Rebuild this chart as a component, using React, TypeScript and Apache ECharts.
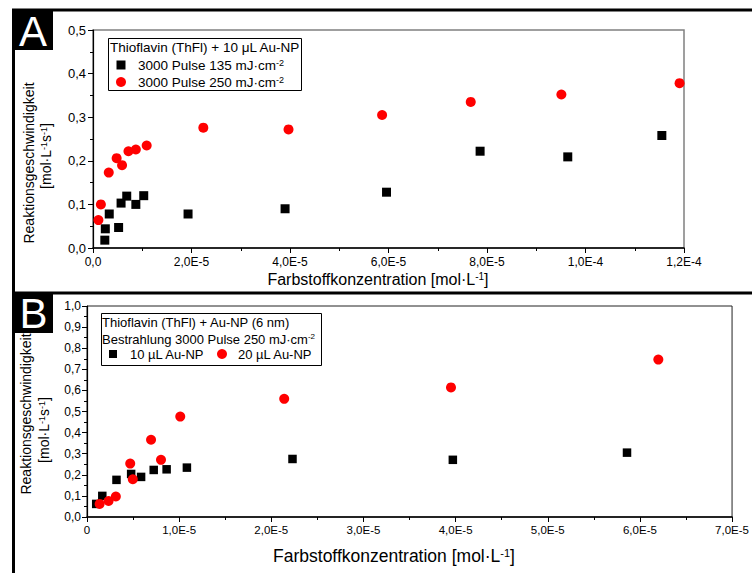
import React, { useEffect, useRef } from "react";
import * as echarts from "echarts";

// Panel A: Thioflavin (ThFl) + 10 µL Au-NP
const aBlack: [number, number][] = [
  [2.4e-6, 0.018], [2.5e-6, 0.044], [3.3e-6, 0.078], [5.2e-6, 0.047], [5.7e-6, 0.103],
  [6.85e-6, 0.119], [8.7e-6, 0.1], [1.03e-5, 0.12], [1.93e-5, 0.078], [3.9e-5, 0.09],
  [5.96e-5, 0.128], [7.86e-5, 0.222], [9.64e-5, 0.209], [1.155e-4, 0.258],
];
const aRed: [number, number][] = [
  [1.1e-6, 0.064], [1.6e-6, 0.1], [3.2e-6, 0.173], [4.8e-6, 0.206], [5.9e-6, 0.19],
  [7.2e-6, 0.222], [8.7e-6, 0.226], [1.09e-5, 0.235], [2.24e-5, 0.276], [3.97e-5, 0.272],
  [5.87e-5, 0.305], [7.67e-5, 0.335], [9.51e-5, 0.352], [1.191e-4, 0.378],
];
// Panel B: Thioflavin (ThFl) + Au-NP (6 nm)
const bBlack: [number, number][] = [
  [1.0e-6, 0.062], [1.66e-6, 0.1], [3.2e-6, 0.176], [4.79e-6, 0.204], [5.87e-6, 0.19],
  [7.24e-6, 0.223], [8.64e-6, 0.226], [1.084e-5, 0.234], [2.23e-5, 0.275], [3.97e-5, 0.271],
  [5.86e-5, 0.305],
];
const bRed: [number, number][] = [
  [1.37e-6, 0.062], [2.34e-6, 0.076], [3.13e-6, 0.097], [4.69e-6, 0.253], [4.97e-6, 0.179],
  [6.95e-6, 0.366], [8.03e-6, 0.271], [1.012e-5, 0.476], [2.14e-5, 0.56], [3.95e-5, 0.614],
  [6.2e-5, 0.746],
];

const seriesNamesA = ["3000 Pulse 135 mJ·cm-2", "3000 Pulse 250 mJ·cm-2"];
const seriesNamesB = ["10 µL Au-NP", "20 µL Au-NP"];

const FONT = "Liberation Sans, Arial, sans-serif";

const fmtExp = (zero: string) => (v: number) =>
  v === 0 ? zero : v.toExponential(1).replace(".", ",").replace("e", "E");
const fmtY = (v: number) => v.toFixed(1).replace(".", ",");

function xAxis(gridIndex: number, max: number, interval: number, zero: string, fs: number, margin: number) {
  return {
    type: "value",
    gridIndex,
    min: 0,
    max,
    interval,
    splitLine: { show: false },
    axisLine: { onZero: false, lineStyle: { color: "#000", width: 1.5 } },
    axisTick: { length: 5, lineStyle: { color: "#000", width: 1 } },
    minorTick: { show: true, splitNumber: 2, length: 3, lineStyle: { color: "#000" } },
    axisLabel: { formatter: fmtExp(zero), fontSize: fs, color: "#000", fontFamily: FONT, margin },
  };
}
function yAxis(gridIndex: number, max: number, fs: number, margin: number) {
  return {
    type: "value",
    gridIndex,
    min: 0,
    max,
    interval: 0.1,
    splitLine: { show: false },
    axisLine: { onZero: false, lineStyle: { color: "#000", width: 1.2 } },
    axisTick: { length: 5, lineStyle: { color: "#000", width: 1 } },
    minorTick: { show: true, splitNumber: 2, length: 3, lineStyle: { color: "#000" } },
    axisLabel: { formatter: fmtY, fontSize: fs, color: "#000", fontFamily: FONT, margin },
  };
}

const sup = (fs: number) => ({ fontSize: fs, lineHeight: 8, verticalAlign: "top", fontFamily: FONT, fill: "#000" });

function txt(x: number, y: number, text: string, fs: number, extra: any = {}) {
  return {
    type: "text",
    x,
    y,
    rotation: extra.rotation || 0,
    style: {
      text,
      fontSize: fs,
      fontFamily: FONT,
      fill: extra.fill || "#000",
      textAlign: extra.align || "left",
      textVerticalAlign: "middle",
      rich: { sup: sup(Math.round(fs * 0.65)) },
    },
    z: extra.z || 10,
  };
}

export default function App() {
  const ref = useRef<HTMLDivElement>(null);
  useEffect(() => {
    if (!ref.current) return;
    const chart = echarts.init(ref.current, null, { renderer: "svg" });
    const toSup = (s: string) => s.replace(/cm-2$/, "cm{sup|-2}");
    const option: any = {
      animation: false,
      backgroundColor: "#fff",
      grid: [
        { left: 93, top: 30, width: 591, height: 218, show: true, borderColor: "#808080", borderWidth: 1.5, backgroundColor: "transparent" },
        { left: 87, top: 306, width: 648, height: 211, show: true, borderColor: "#222", borderWidth: 1, backgroundColor: "transparent" },
      ],
      xAxis: [xAxis(0, 1.2e-4, 2e-5, "0,0", 12, 8), xAxis(1, 7e-5, 1e-5, "0", 11.5, 7)],
      yAxis: [yAxis(0, 0.5, 13, 7), yAxis(1, 1.0, 12, 6)],
      series: [
        { name: seriesNamesA[0], type: "scatter", xAxisIndex: 0, yAxisIndex: 0, data: aBlack, symbol: "rect", symbolSize: 9, itemStyle: { color: "#000", opacity: 1 }, z: 3 },
        { name: seriesNamesA[1], type: "scatter", xAxisIndex: 0, yAxisIndex: 0, data: aRed, symbol: "circle", symbolSize: 10, itemStyle: { color: "#ff0000", opacity: 1 }, z: 4 },
        { name: seriesNamesB[0], type: "scatter", xAxisIndex: 1, yAxisIndex: 1, data: bBlack, symbol: "rect", symbolSize: 8.5, itemStyle: { color: "#000", opacity: 1 }, z: 3 },
        { name: seriesNamesB[1], type: "scatter", xAxisIndex: 1, yAxisIndex: 1, data: bRed, symbol: "circle", symbolSize: 10, itemStyle: { color: "#ff0000", opacity: 1 }, z: 4 },
      ],
      graphic: [
        // outer frame
        { type: "line", shape: { x1: 12, y1: 10, x2: 752, y2: 10 }, style: { stroke: "#000", lineWidth: 3 }, z: 20 },
        { type: "line", shape: { x1: 12, y1: 293, x2: 752, y2: 293 }, style: { stroke: "#000", lineWidth: 3 }, z: 20 },
        { type: "line", shape: { x1: 13.5, y1: 9, x2: 13.5, y2: 573 }, style: { stroke: "#000", lineWidth: 3 }, z: 20 },
        // panel letters
        { type: "rect", shape: { x: 12, y: 9, width: 41, height: 41 }, style: { fill: "#000" }, z: 20 },
        txt(33, 31, "A", 42, { fill: "#fff", align: "center", z: 30 }),
        { type: "rect", shape: { x: 12, y: 293, width: 41, height: 40 }, style: { fill: "#000" }, z: 20 },
        txt(33.5, 313.5, "B", 42, { fill: "#fff", align: "center", z: 30 }),
        // axis titles A
        txt(378, 279, "Farbstoffkonzentration [mol·L{sup|-1}]", 16, { align: "center" }),
        txt(29, 163, "Reaktionsgeschwindigkeit", 14, { align: "center", rotation: Math.PI / 2 }),
        txt(46, 156, "[mol·L{sup|-1}s{sup|-1}]", 14, { align: "center", rotation: Math.PI / 2 }),
        // axis titles B
        txt(394, 556, "Farbstoffkonzentration [mol·L{sup|-1}]", 17.5, { align: "center" }),
        txt(26, 414, "Reaktionsgeschwindigkeit", 14, { align: "center", rotation: Math.PI / 2 }),
        txt(44, 430, "[mol·L{sup|-1}s{sup|-1}]", 14, { align: "center", rotation: Math.PI / 2 }),
        // legend A
        { type: "rect", shape: { x: 108.5, y: 38.5, width: 193, height: 52 }, style: { fill: "#fff", stroke: "#000", lineWidth: 1 }, z: 9 },
        txt(110, 47, "Thioflavin (ThFl) + 10 μL Au-NP", 13.5),
        { type: "rect", shape: { x: 116.5, y: 60.5, width: 9, height: 9 }, style: { fill: "#000" }, z: 10 },
        txt(138, 65, toSup(seriesNamesA[0]), 13.5),
        { type: "circle", shape: { cx: 121, cy: 82, r: 5 }, style: { fill: "#ff0000" }, z: 10 },
        txt(138, 82, toSup(seriesNamesA[1]), 13.5),
        // legend B
        { type: "rect", shape: { x: 101.5, y: 313.5, width: 220, height: 52 }, style: { fill: "#fff", stroke: "#000", lineWidth: 1 }, z: 9 },
        txt(102, 322, "Thioflavin (ThFl) + Au-NP (6 nm)", 13),
        txt(102, 339, "Bestrahlung 3000 Pulse 250 mJ·cm{sup|-2}", 13),
        { type: "rect", shape: { x: 109, y: 350, width: 8, height: 8 }, style: { fill: "#000" }, z: 10 },
        txt(130, 354, seriesNamesB[0], 13),
        { type: "circle", shape: { cx: 222, cy: 354, r: 5 }, style: { fill: "#ff0000" }, z: 10 },
        txt(238, 354, seriesNamesB[1], 13),
      ],
    };
    chart.setOption(option);
    return () => chart.dispose();
  }, []);
  return <div ref={ref} style={{ position: "absolute", left: 0, top: 0, width: 752, height: 573 }} />;
}
